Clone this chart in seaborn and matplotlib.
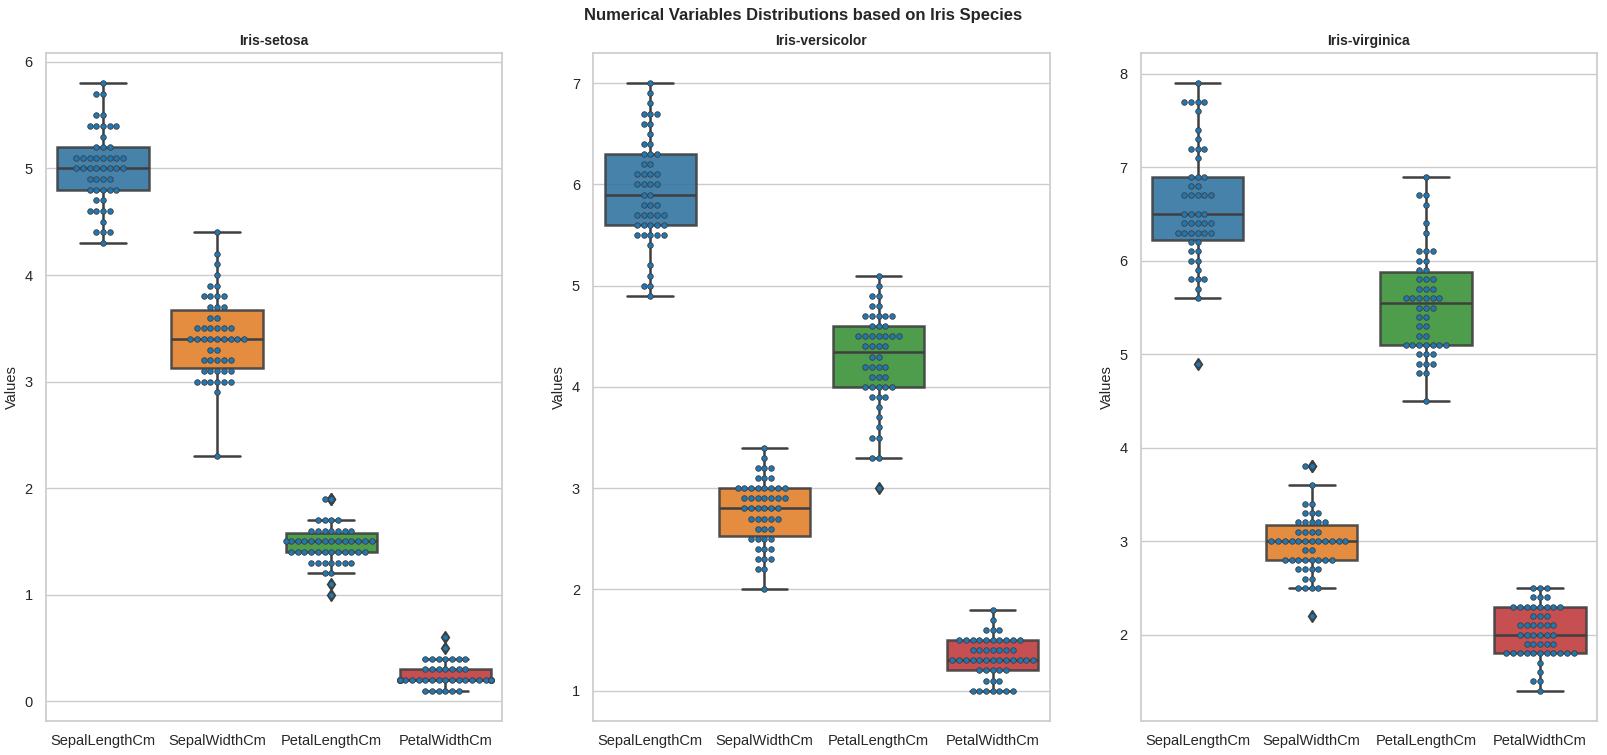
import numpy as np
import pandas as pd
import matplotlib
matplotlib.use("Agg")
import matplotlib.pyplot as plt
import seaborn as sns

features = ["SepalLengthCm", "SepalWidthCm", "PetalLengthCm", "PetalWidthCm"]
species = ["Iris-setosa", "Iris-versicolor", "Iris-virginica"]

sepal_length = [
    5.1, 4.9, 4.7, 4.6, 5.0, 5.4, 4.6, 5.0, 4.4, 4.9, 5.4, 4.8, 4.8, 4.3, 5.8, 5.7, 5.4, 5.1, 5.7, 5.1,
    5.4, 5.1, 4.6, 5.1, 4.8, 5.0, 5.0, 5.2, 5.2, 4.7, 4.8, 5.4, 5.2, 5.5, 4.9, 5.0, 5.5, 4.9, 4.4, 5.1,
    5.0, 4.5, 4.4, 5.0, 5.1, 4.8, 5.1, 4.6, 5.3, 5.0,
    7.0, 6.4, 6.9, 5.5, 6.5, 5.7, 6.3, 4.9, 6.6, 5.2, 5.0, 5.9, 6.0, 6.1, 5.6, 6.7, 5.6, 5.8, 6.2, 5.6,
    5.9, 6.1, 6.3, 6.1, 6.4, 6.6, 6.8, 6.7, 6.0, 5.7, 5.5, 5.5, 5.8, 6.0, 5.4, 6.0, 6.7, 6.3, 5.6, 5.5,
    5.5, 6.1, 5.8, 5.0, 5.6, 5.7, 5.7, 6.2, 5.1, 5.7,
    6.3, 5.8, 7.1, 6.3, 6.5, 7.6, 4.9, 7.3, 6.7, 7.2, 6.5, 6.4, 6.8, 5.7, 5.8, 6.4, 6.5, 7.7, 7.7, 6.0,
    6.9, 5.6, 7.7, 6.3, 6.7, 7.2, 6.2, 6.1, 6.4, 7.2, 7.4, 7.9, 6.4, 6.3, 6.1, 7.7, 6.3, 6.4, 6.0, 6.9,
    6.7, 6.9, 5.8, 6.8, 6.7, 6.7, 6.3, 6.5, 6.2, 5.9,
]
sepal_width = [
    3.5, 3.0, 3.2, 3.1, 3.6, 3.9, 3.4, 3.4, 2.9, 3.1, 3.7, 3.4, 3.0, 3.0, 4.0, 4.4, 3.9, 3.5, 3.8, 3.8,
    3.4, 3.7, 3.6, 3.3, 3.4, 3.0, 3.4, 3.5, 3.4, 3.2, 3.1, 3.4, 4.1, 4.2, 3.1, 3.2, 3.5, 3.1, 3.0, 3.4,
    3.5, 2.3, 3.2, 3.5, 3.8, 3.0, 3.8, 3.2, 3.7, 3.3,
    3.2, 3.2, 3.1, 2.3, 2.8, 2.8, 3.3, 2.4, 2.9, 2.7, 2.0, 3.0, 2.2, 2.9, 2.9, 3.1, 3.0, 2.7, 2.2, 2.5,
    3.2, 2.8, 2.5, 2.8, 2.9, 3.0, 2.8, 3.0, 2.9, 2.6, 2.4, 2.4, 2.7, 2.7, 3.0, 3.4, 3.1, 2.3, 3.0, 2.5,
    2.6, 3.0, 2.6, 2.3, 2.7, 3.0, 2.9, 2.9, 2.5, 2.8,
    3.3, 2.7, 3.0, 2.9, 3.0, 3.0, 2.5, 2.9, 2.5, 3.6, 3.2, 2.7, 3.0, 2.5, 2.8, 3.2, 3.0, 3.8, 2.6, 2.2,
    3.2, 2.8, 2.8, 2.7, 3.3, 3.2, 2.8, 3.0, 2.8, 3.0, 2.8, 3.8, 2.8, 2.8, 2.6, 3.0, 3.4, 3.1, 3.0, 3.1,
    3.1, 3.1, 2.7, 3.2, 3.3, 3.0, 2.5, 3.0, 3.4, 3.0,
]
petal_length = [
    1.4, 1.4, 1.3, 1.5, 1.4, 1.7, 1.4, 1.5, 1.4, 1.5, 1.5, 1.6, 1.4, 1.1, 1.2, 1.5, 1.3, 1.4, 1.7, 1.5,
    1.7, 1.5, 1.0, 1.7, 1.9, 1.6, 1.6, 1.5, 1.4, 1.6, 1.6, 1.5, 1.5, 1.4, 1.5, 1.2, 1.3, 1.5, 1.3, 1.5,
    1.3, 1.3, 1.3, 1.6, 1.9, 1.4, 1.6, 1.4, 1.5, 1.4,
    4.7, 4.5, 4.9, 4.0, 4.6, 4.5, 4.7, 3.3, 4.6, 3.9, 3.5, 4.2, 4.0, 4.7, 3.6, 4.4, 4.5, 4.1, 4.5, 3.9,
    4.8, 4.0, 4.9, 4.7, 4.3, 4.4, 4.8, 5.0, 4.5, 3.5, 3.8, 3.7, 3.9, 5.1, 4.5, 4.5, 4.7, 4.4, 4.1, 4.0,
    4.4, 4.6, 4.0, 3.3, 4.2, 4.2, 4.2, 4.3, 3.0, 4.1,
    6.0, 5.1, 5.9, 5.6, 5.8, 6.6, 4.5, 6.3, 5.8, 6.1, 5.1, 5.3, 5.5, 5.0, 5.1, 5.3, 5.5, 6.7, 6.9, 5.0,
    5.7, 4.9, 6.7, 4.9, 5.7, 6.0, 4.8, 4.9, 5.6, 5.8, 6.1, 6.4, 5.6, 5.1, 5.6, 6.1, 5.6, 5.5, 4.8, 5.4,
    5.6, 5.1, 5.1, 5.9, 5.7, 5.2, 5.0, 5.2, 5.4, 5.1,
]
petal_width = [
    0.2, 0.2, 0.2, 0.2, 0.2, 0.4, 0.3, 0.2, 0.2, 0.1, 0.2, 0.2, 0.1, 0.1, 0.2, 0.4, 0.4, 0.3, 0.3, 0.3,
    0.2, 0.4, 0.2, 0.5, 0.2, 0.2, 0.4, 0.2, 0.2, 0.2, 0.2, 0.4, 0.1, 0.2, 0.1, 0.2, 0.2, 0.1, 0.2, 0.2,
    0.3, 0.3, 0.2, 0.6, 0.4, 0.3, 0.2, 0.2, 0.2, 0.2,
    1.4, 1.5, 1.5, 1.3, 1.5, 1.3, 1.6, 1.0, 1.3, 1.4, 1.0, 1.5, 1.0, 1.4, 1.3, 1.4, 1.5, 1.0, 1.5, 1.1,
    1.8, 1.3, 1.5, 1.2, 1.3, 1.4, 1.4, 1.7, 1.5, 1.0, 1.1, 1.0, 1.2, 1.6, 1.5, 1.6, 1.5, 1.3, 1.3, 1.3,
    1.2, 1.4, 1.2, 1.0, 1.3, 1.2, 1.3, 1.3, 1.1, 1.3,
    2.5, 1.9, 2.1, 1.8, 2.2, 2.1, 1.7, 1.8, 1.8, 2.5, 2.0, 1.9, 2.1, 2.0, 2.4, 2.3, 1.8, 2.2, 2.3, 1.5,
    2.3, 2.0, 2.0, 1.8, 2.1, 1.8, 1.8, 1.8, 2.1, 1.6, 1.9, 2.0, 2.2, 1.5, 1.4, 2.3, 2.4, 1.8, 1.8, 2.1,
    2.4, 2.3, 1.9, 2.3, 2.5, 2.3, 1.9, 2.0, 2.3, 1.8,
]
species_col = [s for s in species for _ in range(50)]

df = pd.DataFrame({
    "Species": species_col,
    "SepalLengthCm": sepal_length,
    "SepalWidthCm": sepal_width,
    "PetalLengthCm": petal_length,
    "PetalWidthCm": petal_width,
})

sns.set_theme(style="whitegrid")
plt.rcParams["font.family"] = ["Liberation Sans", "DejaVu Sans"]

fig, axes = plt.subplots(1, 3, figsize=(16.07, 7.55), dpi=100)
fig.subplots_adjust(left=0.0286, right=0.9938, bottom=0.045, top=0.930, wspace=0.199)

box_palette = ["#1f77b4", "#ff7f0e", "#2ca02c", "#d62728"]
line_c = "#3f3f3f"

for ax, sp in zip(axes, species):
    sub = df[df["Species"] == sp].melt(id_vars="Species", value_vars=features,
                                        var_name="Feature", value_name="Values")
    sns.boxplot(data=sub, x="Feature", y="Values", hue="Feature", palette=box_palette,
                order=features, hue_order=features, legend=False, ax=ax, width=0.8,
                saturation=0.75, linecolor=line_c, linewidth=1.8,
                boxprops=dict(alpha=0.9),
                flierprops=dict(marker="d", markerfacecolor=line_c, markeredgecolor=line_c,
                                markersize=6))
    sns.swarmplot(data=sub, x="Feature", y="Values", order=features, color="#1f77b4",
                  size=4, edgecolor="gray", linewidth=0.6, ax=ax)
    ax.set_title(sp, fontsize=10, fontweight="bold")
    ax.set_xlabel("")
    ax.set_ylabel("Values", fontsize=10.5)
    ax.tick_params(axis="both", labelsize=10.5)

fig.suptitle("Numerical Variables Distributions based on Iris Species", fontsize=12,
             fontweight="bold", y=0.99)

fig.savefig("out.png", dpi=100)
